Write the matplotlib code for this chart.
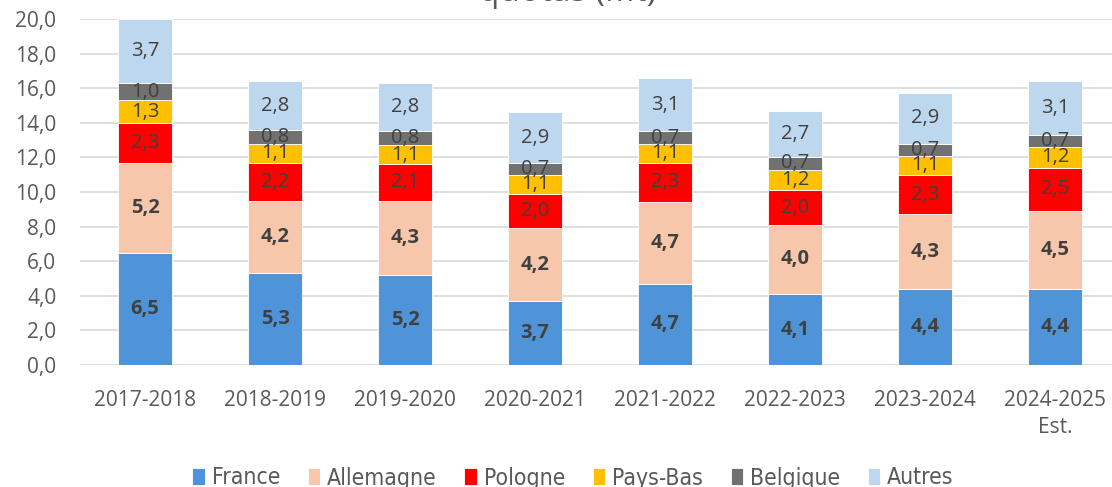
import numpy as np
import matplotlib.pyplot as plt

campagnes = ['2017-2018', '2018-2019', '2019-2020', '2020-2021', '2021-2022',
             '2022-2023', '2023-2024', '2024-2025\nEst.']
france = [6.5, 5.3, 5.2, 3.7, 4.7, 4.1, 4.4, 4.4]
allemagne = [5.2, 4.2, 4.3, 4.2, 4.7, 4.0, 4.3, 4.5]
pologne = [2.3, 2.2, 2.1, 2.0, 2.3, 2.0, 2.3, 2.5]
pays_bas = [1.3, 1.1, 1.1, 1.1, 1.1, 1.2, 1.1, 1.2]
belgique = [1.0, 0.8, 0.8, 0.7, 0.7, 0.7, 0.7, 0.7]
autres = [3.7, 2.8, 2.8, 2.9, 3.1, 2.7, 2.9, 3.1]

series = [('France', france, '#4f94d8', True),
          ('Allemagne', allemagne, '#f6c7aa', True),
          ('Pologne', pologne, '#ff0000', False),
          ('Pays-Bas', pays_bas, '#ffc000', False),
          ('Belgique', belgique, '#717171', False),
          ('Autres', autres, '#bdd7ee', False)]

plt.rcParams['font.family'] = ['Open Sans', 'DejaVu Sans']
txt = '#595959'

fig = plt.figure(figsize=(11.12, 4.87), dpi=100)
# axes spans pixel x 80..1120, y 19..365
ax = fig.add_axes([80 / 1112, 1 - 365 / 487, 1040 / 1112, 346 / 487])

x = np.arange(len(campagnes))
bottom = np.zeros(len(campagnes))
for name, vals, col, bold in series:
    vals = np.array(vals)
    ax.bar(x, vals, 0.41, bottom=bottom, color=col, label=name,
           edgecolor='white', linewidth=0.6, zorder=3)
    for xi, b, v in zip(x, bottom, vals):
        ax.text(xi, b + v / 2, f'{v:.1f}'.replace('.', ','), ha='center', va='center',
                fontsize=14.5, color='#404040', fontweight='bold' if bold else 'normal',
                zorder=4)
    bottom += vals

ax.set_ylim(0, 20)
ax.set_xlim(-0.5, 7.5)
ax.set_yticks(np.arange(0, 21, 2))
ax.set_yticklabels([f'{v:.1f}'.replace('.', ',') for v in np.arange(0, 21, 2)])
ax.set_xticks(x)
ax.set_xticklabels(campagnes, linespacing=1.4)
ax.tick_params(axis='both', length=0, labelsize=15, colors=txt)
ax.tick_params(axis='x', pad=18)
ax.tick_params(axis='y', pad=17)
ax.grid(axis='y', color='#d9d9d9', linewidth=1.2, zorder=0)
for s in ax.spines.values():
    s.set_visible(False)

fig.text(568 / 1112, 1 - 1 / 487, 'quotas (Mt)', ha='center', va='baseline',
         fontsize=24, color=txt)

fig.legend(loc='center', bbox_to_anchor=(573 / 1112, 1 - 478 / 487), ncol=6,
           frameon=False, handlelength=0.55, handleheight=0.75,
           handletextpad=0.3, columnspacing=1.2, labelcolor=txt,
           prop={'family': ['DejaVu Sans'], 'stretch': 'condensed', 'size': 16.5})

fig.savefig('out.png', dpi=100)
